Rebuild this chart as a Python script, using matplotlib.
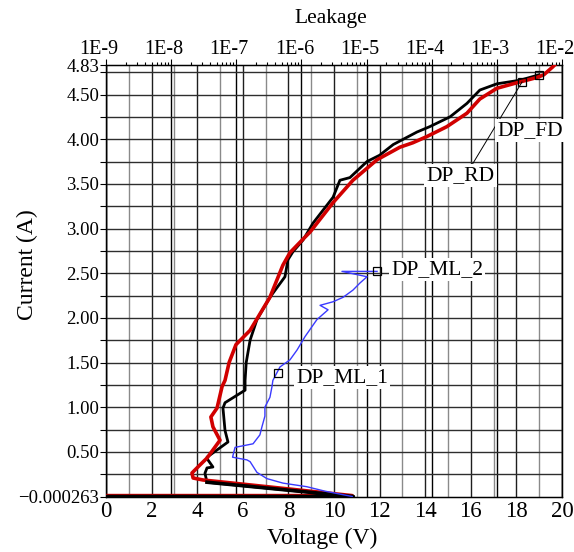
import numpy as np
import matplotlib
matplotlib.use("Agg")
import matplotlib.pyplot as plt
from matplotlib.ticker import FixedLocator, FuncFormatter, LogLocator, NullFormatter

plt.rcParams['font.family'] = ['Liberation Serif', 'DejaVu Serif']

# --- datos ---
# curva roja (DP_RD)
red_v = [0, 10.8, 4.25, 3.82, 3.77, 4.12, 4.43, 5.0, 4.69, 4.6, 4.87, 5.09, 5.22, 5.4, 5.7,
         6.32, 7.19, 7.76, 8.07, 8.6, 8.95, 9.96, 10.83, 11.89, 12.89, 13.46, 14.08, 14.95,
         15.83, 16.4, 17.15, 18.0, 18.9, 19.2, 19.6, 19.95]
red_i = [0.010, 0.010, 0.185, 0.207, 0.263, 0.353, 0.43, 0.63, 0.78, 0.89, 0.99, 1.23, 1.30, 1.5, 1.7,
         1.86, 2.23, 2.59, 2.73, 2.87, 2.96, 3.29, 3.54, 3.77, 3.91, 3.96, 4.03, 4.14,
         4.29, 4.45, 4.57, 4.63, 4.69, 4.72, 4.81, 4.90]

# curva negra (DP_FD)
black_v = [0, 10.85, 4.43, 4.34, 4.43, 4.69, 4.47, 4.43, 5.35, 5.22, 5.13, 5.22, 6.1, 6.1,
           6.15, 6.32, 6.62, 7.19, 7.85, 7.98, 8.2, 8.64, 9.08, 9.96, 10.26, 10.7, 11.45,
           12.0, 12.6, 13.64, 14.2, 15.09, 15.83, 16.4, 17.15, 18.16, 18.99]
black_i = [-0.000263, -0.000263, 0.16, 0.26, 0.32, 0.33, 0.41, 0.44, 0.61, 0.74, 0.99, 1.05, 1.19, 1.30,
           1.5, 1.75, 1.98, 2.23, 2.46, 2.65, 2.74, 2.87, 3.06, 3.35, 3.54, 3.57, 3.75,
           3.82, 3.94, 4.08, 4.14, 4.25, 4.40, 4.55, 4.62, 4.66, 4.72]

# curva azul (DP_ML)
blue_v = [10.8, 9.6, 8.8, 7.76, 7.06, 6.62, 6.32, 6.18, 5.55, 5.66, 6.45, 6.75, 6.84, 6.97,
          6.97, 7.19, 7.28, 7.32, 7.63, 8.07, 8.38, 8.73, 9.25, 9.74, 9.39, 9.96, 10.4,
          10.83, 11.14, 11.45, 10.35, 11.89]
blue_i = [0.0, 0.06, 0.11, 0.15, 0.2, 0.27, 0.39, 0.41, 0.44, 0.55, 0.59, 0.69, 0.78, 0.9,
          1.0, 1.11, 1.23, 1.30, 1.45, 1.53, 1.64, 1.79, 1.98, 2.09, 2.14, 2.18, 2.23,
          2.31, 2.39, 2.46, 2.52, 2.52]

# marcadores y etiquetas
mark_names = ['DP_FD', 'DP_RD', 'DP_ML_2', 'DP_ML_1']
mark_v = [18.99, 18.25, 11.89, 7.54]
mark_i = [4.72, 4.64, 2.52, 1.38]
label_v = [17.15, 14.05, 12.5, 8.35]
label_i = [4.10, 3.59, 2.54, 1.33]

# ejes
y_min, y_max = -0.000263, 4.83
y_major = [-0.000263, 0.5, 1.0, 1.5, 2.0, 2.5, 3.0, 3.5, 4.0, 4.5, 4.83]
y_minor = [0.25, 0.75, 1.25, 1.75, 2.25, 2.75, 3.25, 3.75, 4.25, 4.75]
x_major = [0, 2, 4, 6, 8, 10, 12, 14, 16, 18, 20]
x_minor = [1, 3, 5, 7, 9, 11, 13, 15, 17, 19]
leak_ticks = [1e-9, 1e-8, 1e-7, 1e-6, 1e-5, 1e-4, 1e-3, 1e-2]
leak_labels = ['1E-9', '1E-8', '1E-7', '1E-6', '1E-5', '1E-4', '1E-3', '1E-2']

fig = plt.figure(figsize=(5.74, 5.52), dpi=100)
ax = fig.add_axes([0.1847, 0.1005, 0.7943, 0.7817])
ax.set_xlim(0, 20)
ax.set_ylim(y_min, y_max)

# rejilla vertical (voltios)
for v in x_minor:
    ax.axvline(v, color='#8a8a8a', lw=1.0, zorder=0)
for v in x_major:
    ax.axvline(v, color='#1e1e1e', lw=1.0, zorder=0)
# rejilla horizontal
for y in y_major[1:-1] + y_minor:
    ax.axhline(y, color='#2e2e2e', lw=1.0, zorder=0)

ax.xaxis.set_major_locator(FixedLocator(x_major))
ax.set_xticklabels([str(v) for v in x_major])
ax.yaxis.set_major_locator(FixedLocator(y_major))
ax.yaxis.set_minor_locator(FixedLocator(y_minor))
ax.yaxis.set_major_formatter(FuncFormatter(
    lambda y, p: '\u22120.000263' if y < 0 else '%.2f' % y))
ax.tick_params(axis='y', which='both', direction='out', length=4, width=0.8, labelsize=13.5, pad=1)
ax.tick_params(axis='x', which='both', direction='out', length=0, labelsize=16.5, pad=3)
for s in ax.spines.values():
    s.set_linewidth(1.0)
    s.set_color('black')

# eje superior logaritmico (Leakage)
ax2 = ax.twiny()
ax2.set_xscale('log')
ax2.set_xlim(1e-9, 1e-2)
ax2.xaxis.set_major_locator(FixedLocator(leak_ticks))
ax2.xaxis.set_major_formatter(NullFormatter())
ax2.xaxis.set_minor_locator(LogLocator(base=10, subs=np.arange(2, 10), numticks=20))
ax2.xaxis.set_minor_formatter(NullFormatter())
ax2.tick_params(axis='x', which='major', direction='out', length=4, width=0.8)
ax2.tick_params(axis='x', which='minor', direction='out', length=2.5, width=0.8)
for t, lbl in zip(leak_ticks, leak_labels):
    ax2.axvline(t, color='black', lw=1.0, zorder=0)
    ax2.annotate(lbl, xy=(t, 1), xycoords=('data', 'axes fraction'), xytext=(-5, 4),
                 textcoords='offset points', ha='center', va='bottom', fontsize=14.5,
                 annotation_clip=False)

# curvas
ax.set_zorder(ax2.get_zorder() + 1)
ax.patch.set_visible(False)
ax.plot(black_v, black_i, color='black', lw=2.0, zorder=3, solid_joinstyle='round')
ax.plot(red_v, red_i, color='#d10000', lw=2.6, zorder=4, solid_joinstyle='round')
# el tramo inferior de la negra queda por encima
ax.plot(black_v[:3], black_i[:3], color='black', lw=2.6, zorder=4.5)
ax.plot(blue_v, blue_i, color='#3a3aff', lw=1.0, zorder=5)

# marcadores y etiquetas
ax.plot(mark_v, mark_i, linestyle='none', marker='s', markersize=6, markerfacecolor='none',
        markeredgecolor='black', markeredgewidth=0.9, zorder=6)
ax.plot([16.05, mark_v[1]], [3.71, mark_i[1]], color='black', lw=0.7, zorder=5)
for name, lv, li in zip(mark_names, label_v, label_i):
    ax.text(lv, li, name, fontsize=15.5, ha='left', va='center', zorder=7,
            bbox=dict(facecolor='white', edgecolor='none', pad=1.5))

fig.text(0.561, 0.024, 'Voltage (V)', ha='center', va='center', fontsize=17)
fig.text(0.577, 0.966, 'Leakage', ha='center', va='center', fontsize=15.5)
fig.text(0.048, 0.52, 'Current (A)', ha='center', va='center', rotation=90, fontsize=17)

fig.savefig('out.png', dpi=100)
